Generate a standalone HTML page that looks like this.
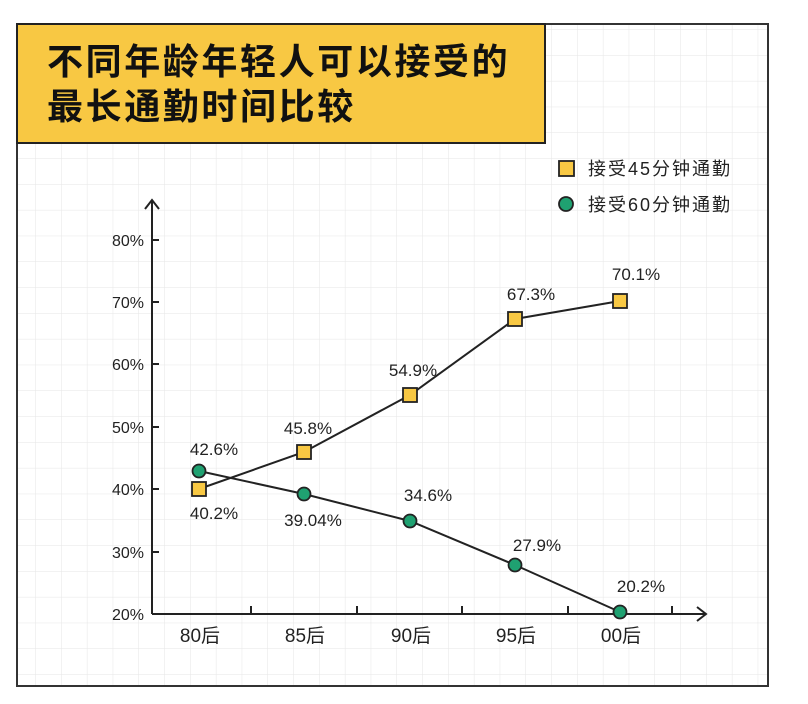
<!DOCTYPE html>
<html><head><meta charset="utf-8"><style>
body{margin:0;background:#fff;}
svg{display:block;font-family:"Liberation Sans","Noto Sans CJK SC",sans-serif;}
</style></head><body>
<svg width="808" height="704" viewBox="0 0 808 704" xmlns="http://www.w3.org/2000/svg">
<defs>
<pattern id="g" x="10" y="4" width="25.8" height="25.8" patternUnits="userSpaceOnUse">
<path d="M25.8 0V25.8M0 25.8H25.8" fill="none" stroke="#e6e6e6" stroke-width="1"/>
</pattern>
</defs>
<rect x="17" y="24" width="751" height="662" fill="url(#g)" stroke="#333" stroke-width="2"/>
<rect x="17" y="24" width="528" height="119" fill="#f8c843" stroke="#222" stroke-width="2"/>
<text x="47" y="74" font-size="36" font-weight="bold" fill="#111" letter-spacing="2.6">不同年龄年轻人可以接受的</text>
<text x="47" y="119" font-size="36" font-weight="bold" fill="#111" letter-spacing="2.6">最长通勤时间比较</text>
<!-- legend -->
<rect x="559" y="161" width="15" height="15" fill="#f8c843" stroke="#222" stroke-width="1.8"/>
<text x="588" y="175" font-size="18" fill="#222" letter-spacing="2">接受45分钟通勤</text>
<circle cx="566" cy="204" r="7" fill="#1fa171" stroke="#222" stroke-width="1.8"/>
<text x="588" y="211" font-size="18" fill="#222" letter-spacing="2">接受60分钟通勤</text>
<!-- axes -->
<g stroke="#222" stroke-width="2" fill="none">
<path d="M152 614V200M145 209L152 200L159 209"/>
<path d="M152 614H705M697 607L706 614L697 621"/>
<path d="M152 240h7M152 302h7M152 364h7M152 427h7M152 489h7M152 552h7"/>
<path d="M251 614v-8M357 614v-8M462 614v-8M568 614v-8M672 614v-8"/>
</g>
<g font-size="16" fill="#222" text-anchor="end">
<text x="144" y="246">80%</text><text x="144" y="308">70%</text><text x="144" y="370">60%</text>
<text x="144" y="433">50%</text><text x="144" y="495">40%</text><text x="144" y="558">30%</text><text x="144" y="620">20%</text>
</g>
<g font-size="19" fill="#222" text-anchor="middle">
<text x="200" y="642">80后</text><text x="305" y="642">85后</text><text x="411" y="642">90后</text><text x="516" y="642">95后</text><text x="621" y="642">00后</text>
</g>
<g stroke="#222" stroke-width="2" fill="none">
<polyline points="199,489 304,452 410,395 515,319 620,301"/>
<polyline points="199,471 304,494 410,521 515,565 620,612"/>
</g>
<g fill="#f8c843" stroke="#222" stroke-width="1.8">
<rect x="192" y="482" width="14" height="14"/><rect x="297" y="445" width="14" height="14"/>
<rect x="403" y="388" width="14" height="14"/><rect x="508" y="312" width="14" height="14"/><rect x="613" y="294" width="14" height="14"/>
</g>
<g fill="#1fa171" stroke="#222" stroke-width="1.8">
<circle cx="199" cy="471" r="6.5"/><circle cx="304" cy="494" r="6.5"/><circle cx="410" cy="521" r="6.5"/><circle cx="515" cy="565" r="6.5"/><circle cx="620" cy="612" r="6.5"/>
</g>
<g font-size="17" fill="#222" text-anchor="middle">
<text x="214" y="455">42.6%</text><text x="214" y="519">40.2%</text>
<text x="308" y="434">45.8%</text><text x="313" y="526">39.04%</text>
<text x="413" y="376">54.9%</text><text x="428" y="501">34.6%</text>
<text x="531" y="300">67.3%</text><text x="537" y="551">27.9%</text>
<text x="636" y="280">70.1%</text><text x="641" y="592">20.2%</text>
</g>
</svg>
</body></html>
